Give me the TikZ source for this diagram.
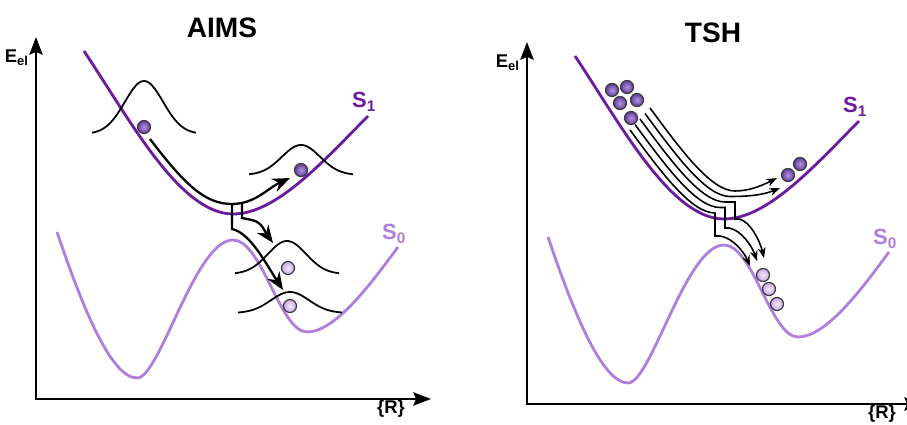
\documentclass[tikz,border=0pt]{standalone}
\usepackage{fontspec}
\setmainfont{Liberation Sans}
\usetikzlibrary{arrows.meta}
\definecolor{PesDark}{HTML}{6C1A9E}
\definecolor{PesLight}{HTML}{B07EDE}
\definecolor{BallDarkIn}{HTML}{B196DC}
\definecolor{BallDarkOut}{HTML}{633A9C}
\definecolor{BallLightIn}{HTML}{F6ECFC}
\definecolor{BallLightOut}{HTML}{C9A6E7}
\definecolor{BallRim}{HTML}{3A3A3A}

% gaussian wave packet: centre x, base y, height, width
\newcommand{\wavepacket}[4]{%
  \draw[packet] plot[domain=-52:52, samples=61, smooth]
    ({#1+\x}, {#2-#3*exp(-((\x)^2)/(#4*#4))});}

\begin{document}
\begin{tikzpicture}[x=0.02cm, y=-0.02cm, >=Stealth,
    axis/.style={line width=1.5pt, {Stealth[length=10pt, width=7.5pt, inset=1.5pt]}-{Stealth[length=10pt, width=7.5pt, inset=1.5pt]}},
    sone/.style={PesDark, line width=1.6pt},
    szero/.style={PesLight, line width=1.6pt},
    packet/.style={line width=1pt},
    traj/.style={line width=1.3pt, -{Stealth[length=10pt, width=8pt]}},
    thintraj/.style={line width=0.9pt, -{Stealth[length=6pt, width=4.5pt]}},
    balldark/.style={circle, inner sep=0pt, minimum size=0.26cm, draw=BallRim, line width=0.7pt, shade, inner color=BallDarkIn, outer color=BallDarkOut},
    balllight/.style={circle, inner sep=0pt, minimum size=0.26cm, draw=BallRim, line width=0.7pt, shade, inner color=BallLightIn, outer color=BallLightOut},
    title/.style={font=\fontsize{16}{19}\selectfont\bfseries},
    axlabel/.style={font=\fontsize{10.5}{12}\selectfont\bfseries},
    statelabel/.style={font=\fontsize{12.5}{14}\selectfont\bfseries}]

    \useasboundingbox (0,0) rectangle (907,425);

    % ========== LEFT: AIMS ==========
    \begin{scope}
        \node[title] (aims-title) at (222,28) {AIMS};

        % Axes
        \coordinate (aims-o) at (36,399);
        \coordinate (aims-ytip) at (36,37);
        \coordinate (aims-xtip) at (431,399);
        \draw[axis] (aims-ytip) -- (aims-o) -- (aims-xtip);
        \node[axlabel, anchor=base east] (aims-elab) at (35,63) {E\textsubscript{el}};
        \node[axlabel, anchor=base] (aims-rlab) at (391,414) {\{R\}};

        % Potential energy surfaces
        \draw[szero] (57,232) .. controls (80,300) and (110,378) .. (137,378)
            .. controls (160,378) and (195,240) .. (233,240)
            .. controls (262,240) and (280,332) .. (307,332)
            .. controls (335,332) and (370,285) .. (398,247);
        \draw[sone] (84,51) .. controls (130,120) and (180,214) .. (233,214)
            .. controls (275,214) and (320,165) .. (368,116);
        \node[statelabel, PesDark, anchor=base west] (aims-s1) at (346,108) {S\textsubscript{1}};
        \node[statelabel, PesLight, anchor=base west] (aims-s0) at (376,240) {S\textsubscript{0}};

        % Wave packets
        \wavepacket{144}{134}{53}{27}
        \wavepacket{301}{175}{30}{27}
        \wavepacket{287}{274}{33}{27}
        \wavepacket{290}{313}{21}{27}

        % Trajectory with spawning
        \draw[traj] (150,139) .. controls (185,185) and (205,204) .. (232,204)
            .. controls (255,204) and (268,188) .. (290,178);
        \draw[traj] (242,204) -- (242,218) -- (252,220) .. controls (262,222) and (265,232) .. (273,243);
        \draw[traj] (232,204) -- (232,229) .. controls (250,233) and (265,262) .. (283,290);

        % Centres
        \node[balldark] (aims-b1) at (144,127) {};
        \node[balldark] (aims-b2) at (301,170) {};
        \node[balllight] (aims-b3) at (288,268) {};
        \node[balllight] (aims-b4) at (290,306) {};
    \end{scope}

    % ========== RIGHT: TSH ==========
    \begin{scope}[shift={(491,5)}]
        \node[title] (tsh-title) at (222,28) {TSH};

        % Axes
        \coordinate (tsh-o) at (36,399);
        \coordinate (tsh-ytip) at (36,37);
        \coordinate (tsh-xtip) at (431,399);
        \draw[axis] (tsh-ytip) -- (tsh-o) -- (tsh-xtip);
        \node[axlabel, anchor=base east] (tsh-elab) at (35,63) {E\textsubscript{el}};
        \node[axlabel, anchor=base] (tsh-rlab) at (391,414) {\{R\}};

        % Potential energy surfaces
        \draw[szero] (57,232) .. controls (80,300) and (110,378) .. (137,378)
            .. controls (160,378) and (195,240) .. (233,240)
            .. controls (262,240) and (280,332) .. (307,332)
            .. controls (335,332) and (370,285) .. (398,247);
        \draw[sone] (84,51) .. controls (130,120) and (180,214) .. (233,214)
            .. controls (275,214) and (320,165) .. (368,116);
        \node[statelabel, PesDark, anchor=base west] (tsh-s1) at (346,108) {S\textsubscript{1}};
        \node[statelabel, PesLight, anchor=base west] (tsh-s0) at (376,240) {S\textsubscript{0}};

        % Swarm of trajectories, three of them hop to S0
        \draw[thintraj] (139,125) .. controls (170,167) and (200,208) .. (224,208)
            -- (224,231) -- (229,231) .. controls (242,233) and (253,247) .. (259,261);
        \draw[thintraj] (144,119.5) .. controls (175,161.5) and (205,202.5) .. (229,202.5)
            -- (234,202.5) -- (234,223) -- (238,223) .. controls (250,225) and (261,241) .. (266,256);
        \draw[thintraj] (149,114) .. controls (180,156) and (210,197) .. (234,197)
            -- (244,197) -- (244,214) -- (248,214) .. controls (259,216) and (269,236) .. (273,253);
        \draw[thintraj] (154,108.5) .. controls (185,150.5) and (215,191.5) .. (239,191.5)
            .. controls (258,191.5) and (272,190) .. (289,183);
        \draw[thintraj] (159,103) .. controls (190,145) and (220,186) .. (244,186)
            .. controls (258,186) and (270,181) .. (286,173);

        % Initial conditions
        \node[balldark] (tsh-i1) at (121,85) {};
        \node[balldark] (tsh-i2) at (136,82) {};
        \node[balldark] (tsh-i3) at (129,98) {};
        \node[balldark] (tsh-i4) at (146,95) {};
        \node[balldark] (tsh-i5) at (140,113) {};

        % Final points
        \node[balldark] (tsh-f1) at (297,170) {};
        \node[balldark] (tsh-f2) at (309,159) {};
        \node[balllight] (tsh-g1) at (272,270) {};
        \node[balllight] (tsh-g2) at (278,284) {};
        \node[balllight] (tsh-g3) at (286,299) {};
    \end{scope}

\end{tikzpicture}
\end{document}
